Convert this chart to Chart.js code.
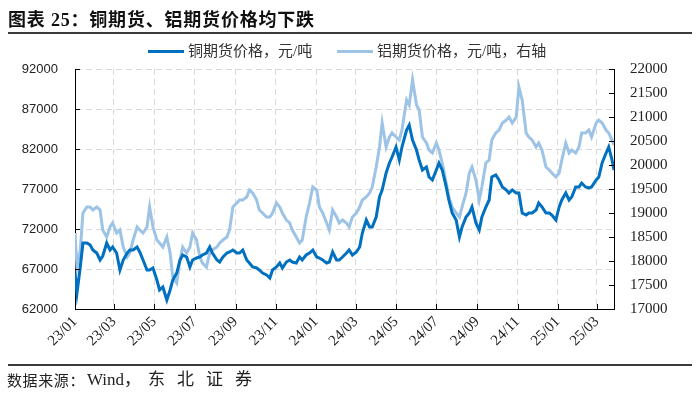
<!DOCTYPE html>
<html>
<head>
<meta charset="utf-8">
<script src="https://cdn.jsdelivr.net/npm/chart.js@4.4.1/dist/chart.umd.min.js"></script>
<style>
html,body{margin:0;padding:0;background:#fff;}
#wrap{position:relative;width:700px;height:393px;overflow:hidden;font-family:"Noto Sans CJK SC",sans-serif;color:#222;}
#c{position:absolute;left:0;top:0;}
.title{position:absolute;left:8px;top:7px;font-family:"Liberation Serif","Noto Sans CJK SC",serif;font-size:18px;letter-spacing:0.8px;font-weight:bold;color:#111;line-height:26px;white-space:nowrap;}
.rule{position:absolute;left:8px;width:684px;height:2px;background:#3a3a3a;}
.leg{position:absolute;top:41px;height:20px;line-height:20px;font-size:15px;color:#333;white-space:nowrap;font-family:"Liberation Serif","Noto Sans CJK SC",serif;}
.legline{position:absolute;top:50px;height:3px;width:36px;}
.foot{position:absolute;top:371px;font-size:15px;line-height:20px;color:#222;white-space:nowrap;font-family:"Liberation Serif","Noto Sans CJK SC",serif;}
</style>
</head>
<body>
<div id="wrap">
<canvas id="c" width="700" height="393"></canvas>
<div class="title">图表 25：铜期货、铝期货价格均下跌</div>
<div class="rule" style="top:32px;"></div>
<div class="legline" style="left:148px;background:#0070C0;"></div>
<div class="leg" style="left:188px;">铜期货价格，元/吨</div>
<div class="legline" style="left:337px;background:#9DC3E6;"></div>
<div class="leg" style="left:377px;">铝期货价格，元/吨，右轴</div>
<div class="rule" style="top:364px;"></div>
<div class="foot" style="left:7px;letter-spacing:0.6px;">数据来源：</div>
<div class="foot" style="left:87px;font-size:17px;top:370px;">Wind，</div>
<div class="foot" style="left:148px;font-size:17px;top:370px;letter-spacing:12px;">东北证券</div>
</div>
<script>
// x positions: days since 2023-01-01
const dayOffsets = [
  0,3,8,12,18,23,27,33,38,42,
  48,53,57,63,68,73,79,83,88,94,
  98,103,109,113,118,124,128,133,139,144,
  148,154,159,163,169,174,178,184,189,193,
  199,204,208,215,219,224,230,234,239,245,
  249,254,260,264,269,275,279,284,290,295,
  299,305,310,314,320,325,329,335,340,344,
  350,355,360,366,370,375,381,385,390,396,
  400,405,411,415,420,426,431,435,441,446,
  450,456,461,465,471,476,480,486,491,495,
  502,506,511,517,521,526,532,536,541,547,
  551,556,562,566,571,577,582,586,592,597,
  601,607,612,616,622,627,631,637,642,647,
  653,657,662,668,672,677,683,687,692,698,
  702,707,713,718,722,728,733,737,743,748,
  752,758,763,767,773,778,782,789,793,798,
  804,808,813,816
];
// 铜期货价格，元/吨 (left axis)
const copper = [
  66500,64000,67250,70250,70250,70000,69375,69000,68125,68625,
  70250,69375,69750,69000,66875,68125,69000,69375,69375,69750,
  69125,68125,66875,66875,67125,65625,64375,64750,63125,64375,
  65625,66500,68125,68750,68500,67250,68125,68375,68500,68750,
  69000,69750,69000,68125,67875,68500,69000,69125,69375,69000,
  69000,69375,68125,67750,67250,67125,66875,66500,66250,65875,
  66875,67250,67750,67125,67875,68125,67875,67750,68500,68125,
  68750,69000,69375,68500,68375,68125,67750,67875,69125,68125,
  68125,68500,69000,69375,68750,69125,69750,71500,73125,72250,
  72250,73500,76000,76875,79000,80250,81000,82250,80625,82250,
  84375,85000,83125,81875,80625,79375,79750,78500,78125,79375,
  80250,79375,77250,75625,74000,73125,71000,72250,73500,74000,
  74750,72750,71875,73500,74750,75625,78500,78750,78125,77250,
  76875,76500,76875,76500,76500,74000,73750,74000,74000,74375,
  75250,74750,74000,74000,73750,73125,74750,75625,76500,75625,
  76000,77250,77250,77750,77250,77125,77250,78125,78500,80250,
  81500,82250,80625,79375
];
// 铝期货价格，元/吨 (right axis)
const aluminum = [
  18583,17875,18229,19000,19125,19125,19062,19125,19062,18646,
  18500,18708,18792,18583,18646,18292,18083,18167,18437,18708,
  18646,18583,18708,19125,18708,18437,18375,18292,18500,18167,
  17667,17542,18021,18292,18167,18292,18583,18437,18083,17958,
  17875,18167,18229,18292,18375,18437,18500,18646,19125,19208,
  19271,19271,19333,19479,19417,19271,19062,19000,18917,18917,
  19000,19208,19125,19000,18854,18792,18646,18500,18375,18437,
  18917,19208,19542,19479,19125,19000,18792,18646,19062,18917,
  18792,18854,18792,18708,18917,19000,19125,19271,19333,19417,
  19542,19958,20375,20875,20375,20583,20667,20583,20521,20729,
  21354,21250,21771,21250,21146,20583,20458,20312,20250,20458,
  20312,20042,19625,19333,19125,19000,18917,19125,19417,19833,
  19958,19687,19271,19542,20042,20104,20521,20667,20729,20875,
  20937,21000,20875,21000,21625,21354,20667,20583,20521,20375,
  20458,20312,19958,19896,19833,19750,19833,20104,20458,20250,
  20312,20250,20375,20667,20667,20729,20583,20875,20937,20875,
  20729,20667,20521,20417
];
// x-axis ticks (days since 2023-01-01) and their labels
const tickDays = [0,59,120,181,243,304,365,425,486,547,609,670,731,790];
const tickLabels = ['23/01','23/03','23/05','23/07','23/09','23/11','24/01','24/03','24/05','24/07','24/09','24/11','25/01','25/03'];

const innerTicks = {
  id:'innerTicks',
  afterDraw(chart){
    const {ctx, chartArea:a, scales} = chart;
    ctx.save();
    ctx.strokeStyle = '#000';
    ctx.lineWidth = 1;
    ctx.beginPath();
    scales.y.ticks.forEach(t => {
      const p = Math.round(scales.y.getPixelForValue(t.value)) + 0.5;
      ctx.moveTo(a.left, p); ctx.lineTo(a.left + 5, p);
    });
    scales.y2.ticks.forEach(t => {
      const p = Math.round(scales.y2.getPixelForValue(t.value)) + 0.5;
      ctx.moveTo(a.right, p); ctx.lineTo(a.right - 5, p);
    });
    scales.x.ticks.forEach(t => {
      const p = Math.round(scales.x.getPixelForValue(t.value)) + 0.5;
      ctx.moveTo(p, a.bottom); ctx.lineTo(p, a.bottom - 5);
    });
    ctx.stroke();
    ctx.restore();
  }
};

new Chart(document.getElementById('c'), {
  type: 'line',
  data: {
    datasets: [
      {
        label: '铜期货价格，元/吨',
        data: copper.map((v, i) => ({x: dayOffsets[i], y: v})),
        yAxisID: 'y',
        borderColor: '#0070C0',
        borderWidth: 3,
        pointRadius: 0,
        tension: 0,
        fill: false
      },
      {
        label: '铝期货价格，元/吨，右轴',
        data: aluminum.map((v, i) => ({x: dayOffsets[i], y: v})),
        yAxisID: 'y2',
        borderColor: '#9DC3E6',
        borderWidth: 3,
        pointRadius: 0,
        tension: 0,
        fill: false
      }
    ]
  },
  options: {
    responsive: false,
    animation: false,
    devicePixelRatio: 1,
    layout: {padding: {top: 69, left: 0, right: 0, bottom: 0}},
    plugins: {legend: {display: false}, tooltip: {enabled: false}},
    scales: {
      x: {
        type: 'linear',
        min: 0,
        max: 816,
        afterBuildTicks: ax => { ax.ticks = tickDays.map(v => ({value: v})); },
        afterFit: s => { s.height = 84; },
        ticks: {
          autoSkip: false,
          minRotation: 45,
          maxRotation: 45,
          padding: 4,
          color: '#222',
          font: {family: 'Liberation Serif', size: 15},
          callback: (v, i) => tickLabels[i]
        },
        grid: {color: '#d9d9d9', lineWidth: 1, drawTicks: false},
        border: {display: true, color: '#000', width: 1, dash: [6, 4]}
      },
      y: {
        position: 'left',
        min: 62000,
        max: 92000,
        afterFit: s => { s.width = 75; },
        ticks: {
          stepSize: 5000,
          padding: 17,
          color: '#222',
          font: {family: 'Liberation Sans', size: 13},
          callback: v => String(v)
        },
        grid: {color: '#d9d9d9', lineWidth: 1, drawTicks: false},
        border: {display: true, color: '#000', width: 1, dash: [6, 4]}
      },
      y2: {
        position: 'right',
        min: 17000,
        max: 22000,
        afterFit: s => { s.width = 86; },
        ticks: {
          stepSize: 500,
          padding: 16,
          color: '#222',
          font: {family: 'Liberation Serif', size: 15},
          callback: v => String(v)
        },
        grid: {display: false, drawTicks: false},
        border: {display: true, color: '#000', width: 1}
      }
    }
  },
  plugins: [innerTicks]
});
</script>
</body>
</html>
